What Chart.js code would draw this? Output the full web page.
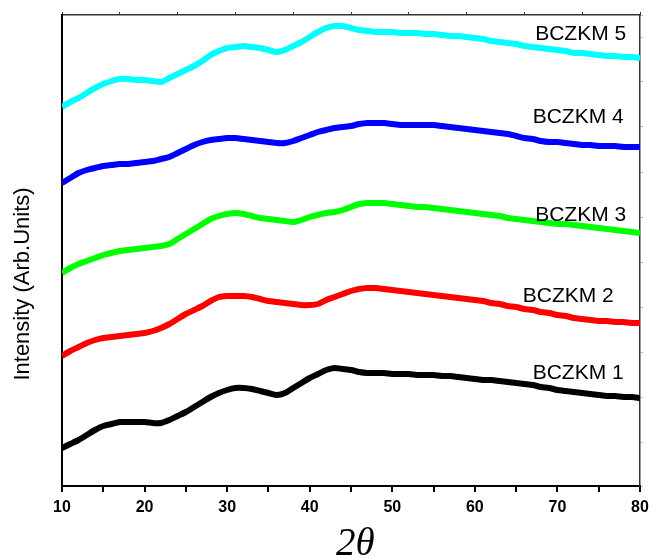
<!DOCTYPE html>
<html>
<head>
<meta charset="utf-8">
<script src="https://cdn.jsdelivr.net/npm/chart.js@4.4.1/dist/chart.umd.min.js"></script>
<style>
  html, body { margin: 0; padding: 0; background: #fff; }
  #wrap { width: 649px; height: 558px; }
</style>
</head>
<body>
<div id="wrap"><canvas id="xrdChart" width="649" height="558"></canvas></div>
<script>
/* 2theta, 10..80 step 1 */
var tetaDegerleri = [];
for (var d = 10; d <= 80; d++) { tetaDegerleri.push(d); }

var seriAdlari = ["BCZKM 1", "BCZKM 2", "BCZKM 3", "BCZKM 4", "BCZKM 5"];
var seriRenkleri = ["#000000", "#ff0000", "#00ff00", "#0000ff", "#00ffff"];

/* intensity (arb. units), offset stacked as in the figure */
var bczkm1 = [39,43,47,52,57,61,63,65,65,65, 65,64,64,67,71,75,80,85,90,94,
  97,99,99,98,96,94,92,94,99,104, 109,113,117,119,118,117,115,114,114,114,
  113,113,113,112,112,112,111,111,110,109, 108,107,107,106,105,104,103,102,100,99,
  97,96,95,94,93,92,91,91,90,90, 89];
var bczkm2 = [131,136,140,144,147,149,150,151,152,153, 154,156,159,163,168,173,177,181,186,190,
  191,191,191,190,188,186,185,184,183,182, 182,183,187,190,193,196,198,199,199,198,
  197,196,195,194,193,192,191,190,189,188, 187,186,184,183,181,180,178,177,175,174,
  172,171,169,168,167,166,166,165,165,164, 164];
var bczkm3 = [214,219,223,226,229,232,234,236,237,238, 239,240,241,243,248,253,258,263,268,271,
  273,274,273,271,269,268,267,266,265,267, 270,272,274,275,277,280,283,284,284,284,
  283,282,281,280,280,279,278,277,276,275, 274,273,272,271,269,268,267,266,265,264,
  263,263,262,261,260,259,258,257,256,255, 254];
var bczkm4 = [304,309,314,317,319,321,322,323,323,324, 325,326,328,330,334,338,342,345,347,348,
  349,349,348,347,346,345,344,344,346,349, 352,355,357,359,360,361,363,364,364,364,
  363,362,362,362,362,362,361,360,359,358, 357,356,355,354,353,351,349,348,346,345,
  345,344,343,342,342,341,341,341,340,340, 340];
var bczkm5 = [380,385,389,394,399,403,406,408,408,407, 407,406,405,409,413,417,421,426,432,436,
  439,440,441,440,439,437,435,437,441,445, 450,455,459,461,461,459,457,456,455,455,
  455,454,454,454,453,453,452,451,451,450, 449,448,446,445,444,443,441,440,439,438,
  437,436,434,434,433,432,431,431,430,430, 429];

var seriVerileri = [bczkm1, bczkm2, bczkm3, bczkm4, bczkm5];

/* label anchors: [2theta, intensity] */
var etiketKonumlari = [[67.0, 108], [65.8, 185], [67.3, 266], [67.0, 364], [67.3, 447]];

var veriSetleri = [];
for (var i = 0; i < seriVerileri.length; i++) {
  var noktalar = [];
  for (var j = 0; j < tetaDegerleri.length; j++) {
    noktalar.push({ x: tetaDegerleri[j], y: seriVerileri[i][j] });
  }
  veriSetleri.push({
    label: seriAdlari[i],
    data: noktalar,
    borderColor: seriRenkleri[i],
    backgroundColor: seriRenkleri[i],
    borderWidth: 6,
    pointRadius: 0,
    tension: 0.25,
    fill: false
  });
}

var yaziEklentisi = {
  id: "yaziEklentisi",
  afterDraw: function (chart) {
    var ctx = chart.ctx;
    var xs = chart.scales.x;
    var ys = chart.scales.y;
    ctx.save();
    ctx.fillStyle = "#000";
    ctx.font = "21px 'Liberation Sans', Arial, sans-serif";
    ctx.textAlign = "left";
    ctx.textBaseline = "alphabetic";
    for (var k = 0; k < seriAdlari.length; k++) {
      ctx.fillText(seriAdlari[k], xs.getPixelForValue(etiketKonumlari[k][0]), ys.getPixelForValue(etiketKonumlari[k][1]));
    }
    // y axis title
    ctx.save();
    ctx.translate(29, 284);
    ctx.rotate(-Math.PI / 2);
    ctx.textAlign = "center";
    ctx.font = "22px 'Liberation Sans', Arial, sans-serif";
    ctx.fillText("Intensity (Arb.Units)", 0, 0);
    ctx.restore();
    // x axis title
    ctx.textAlign = "left";
    ctx.font = "italic 39px 'Liberation Serif', 'Times New Roman', serif";
    ctx.fillText("2\u03B8", 336, 555);
    ctx.restore();
  }
};

var ctx = document.getElementById("xrdChart");
var xrdChart = new Chart(ctx, {
  type: "line",
  data: { datasets: veriSetleri },
  options: {
    responsive: false,
    animation: false,
    layout: { padding: { top: 0, right: 0, left: 0, bottom: 0 } },
    plugins: { legend: { display: false }, tooltip: { enabled: false } },
    scales: {
      x: {
        type: "linear",
        position: "bottom",
        min: 10,
        max: 80,
        afterFit: function (s) { s.height = 72; s.paddingLeft = 0; s.paddingRight = 0; },
        border: { display: true, color: "#000", width: 2 },
        grid: { drawOnChartArea: false, drawTicks: true, tickLength: 6, color: "#000", lineWidth: 2 },
        ticks: {
          stepSize: 5,
          autoSkip: false,
          maxRotation: 0,
          padding: 6,
          color: "#000",
          font: { family: "'Liberation Sans', Arial, sans-serif", size: 16, weight: "bold" },
          callback: function (v) { return v % 10 === 0 ? v : ""; }
        }
      },
      xUst: {
        type: "linear",
        position: "top",
        min: 10,
        max: 80,
        afterFit: function (s) { s.height = 15; s.paddingLeft = 0; s.paddingRight = 0; },
        border: { display: true, color: "#333", width: 1.5 },
        grid: { drawOnChartArea: false, drawTicks: true, tickLength: 3, color: "#333", lineWidth: 1 },
        ticks: { stepSize: 7, display: true, callback: function () { return ""; }, padding: 0, font: { size: 1 } }
      },
      y: {
        type: "linear",
        position: "left",
        min: 1,
        max: 472,
        afterFit: function (s) { s.width = 62; s.paddingTop = 0; s.paddingBottom = 0; },
        border: { display: true, color: "#000", width: 2 },
        grid: { display: false },
        ticks: { display: false }
      },
      ySag: {
        type: "linear",
        position: "right",
        min: 1,
        max: 472,
        afterFit: function (s) { s.width = 9; s.paddingTop = 0; s.paddingBottom = 0; },
        border: { display: true, color: "#333", width: 1.5 },
        grid: { drawOnChartArea: false, drawTicks: true, tickLength: 3, color: "#bbb", lineWidth: 1 },
        ticks: { stepSize: 45, display: true, callback: function () { return ""; }, padding: 0, font: { size: 1 } }
      }
    }
  },
  plugins: [yaziEklentisi]
});
</script>
</body>
</html>
